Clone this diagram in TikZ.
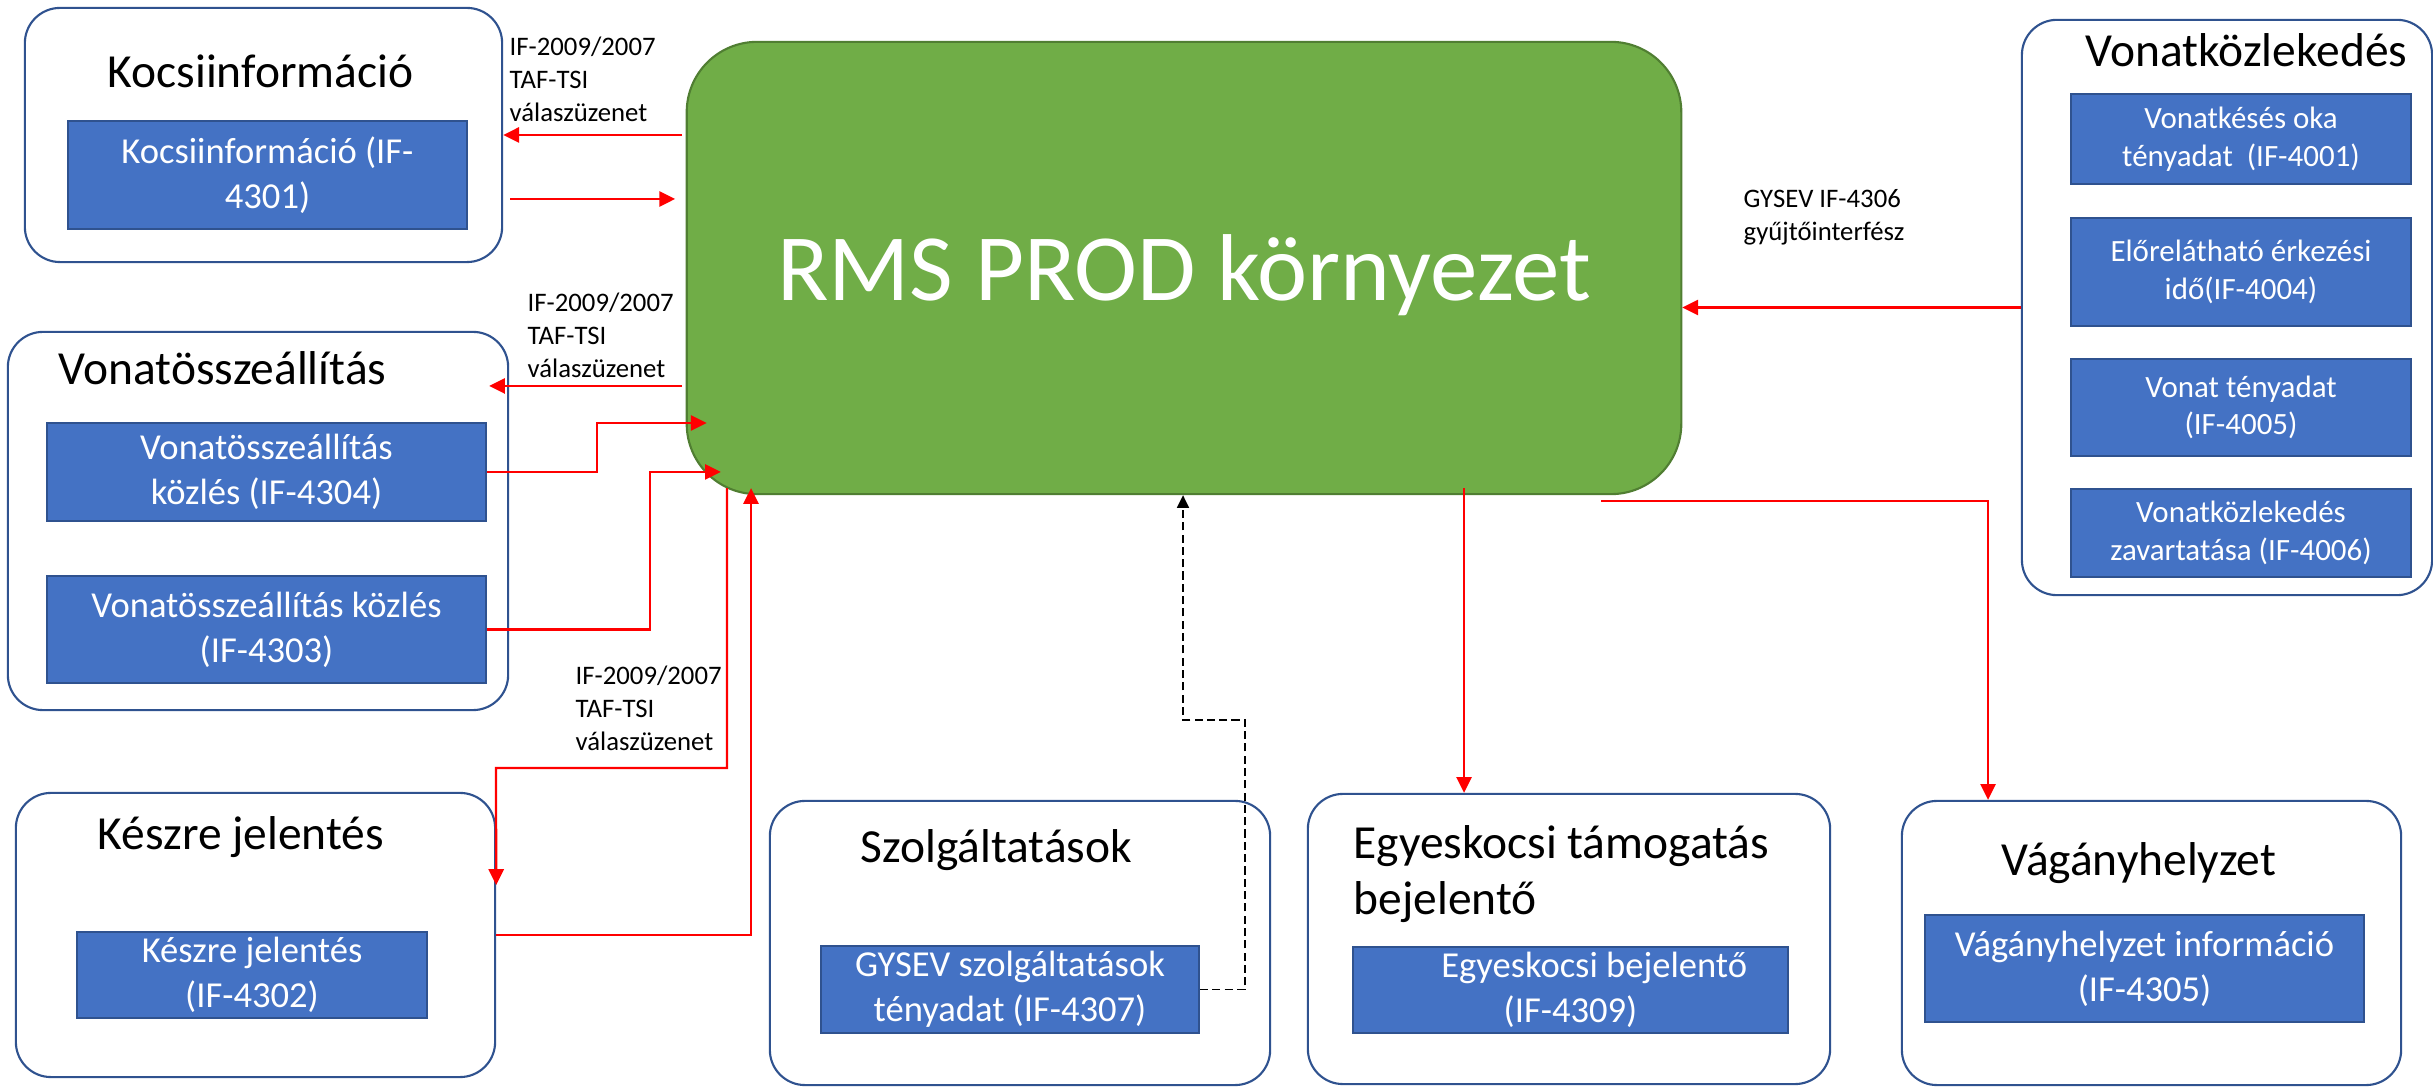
\documentclass[tikz,border=0pt]{standalone}
\usepackage{fontspec}
\setmainfont{Carlito}
\usetikzlibrary{arrows.meta}

\definecolor{ifblue}{HTML}{4472C4}
\definecolor{ifline}{HTML}{2F528F}
\definecolor{rmsgreen}{HTML}{70AD47}
\definecolor{rmsline}{HTML}{507E32}

\begin{document}
\begin{tikzpicture}[x=0.01cm, y=-0.01cm,
  grp/.style={draw=ifline, line width=0.6pt, rounded corners=10pt, fill=white},
  ifbox/.style={draw=ifline, line width=0.5pt, fill=ifblue, text=white, align=center, inner sep=0pt, font=\fontsize{10.4}{12.8}\selectfont},
  vkbox/.style={ifbox, minimum width=3.40cm, font=\fontsize{8.8}{10.7}\selectfont},
  ttl/.style={anchor=base west, inner sep=0pt, font=\fontsize{13.5}{16.2}\selectfont},
  msg/.style={anchor=base west, inner sep=0pt, align=left, font=\fontsize{7.6}{9.4}\selectfont},
  rarr/.style={draw=red, line width=0.65pt, -{Triangle[length=4.5pt,width=4.3pt]}},
  darr/.style={draw=black, line width=0.45pt, dash pattern=on 2.3pt off 1.2pt, -{Triangle[length=3.6pt,width=3.4pt]}}]
\useasboundingbox (0,0) rectangle (2433,1089);

% groups
\node[grp, minimum width=4.77cm, minimum height=2.54cm] (kocsi) at (263.5,135) {};
\node[grp, minimum width=5.00cm, minimum height=3.78cm] (vonat) at (258,521) {};
\node[grp, minimum width=4.79cm, minimum height=2.84cm] (keszre) at (255.5,935) {};
\node[grp, minimum width=5.00cm, minimum height=2.84cm] (szolg) at (1020,943) {};
\node[grp, minimum width=5.22cm, minimum height=2.90cm] (egyes) at (1569,939) {};
\node[grp, minimum width=4.99cm, minimum height=2.84cm] (vagany) at (2151.5,943) {};
\node[grp, minimum width=4.10cm, minimum height=5.75cm] (vonatk) at (2227,307.5) {};

\node[draw=rmsline, line width=0.6pt, fill=rmsgreen, rounded corners=20pt,
  minimum width=9.94cm, minimum height=4.52cm, text=white, text depth=0pt,
  font=\fontsize{27}{32}\selectfont] (rms) at (1184,268) {RMS PROD környezet};

\node[ttl] (kocsit) at (107,88) {Kocsiinformáció};
\node[ttl] (vonatt) at (58,385) {Vonatösszeállítás};
\node[ttl] (keszret) at (97,850) {Készre jelentés};
\node[ttl] (szolgt) at (860,863) {Szolgáltatások};
\node[ttl, align=left] (egyest) at (1353,915) {Egyeskocsi támogatás\\bejelentő};
\node[ttl] (vagat) at (2001,876) {Vágányhelyzet};
\node[ttl] (vonatkt) at (2085,67) {Vonatközlekedés};

% interfaces
\node[ifbox, minimum width=3.99cm, minimum height=1.08cm] (kb) at (267.5,175) {Kocsiinformáció (IF-\\4301)};
\node[ifbox, minimum width=4.39cm, minimum height=0.98cm] (vb1) at (266.5,472) {Vonatösszeállítás\\közlés (IF-4304)};
\node[ifbox, minimum width=4.39cm, minimum height=1.07cm] (vb2) at (266.5,629.5) {Vonatösszeállítás közlés\\(IF-4303)};
\node[ifbox, minimum width=3.50cm, minimum height=0.86cm] (kjb) at (252,975) {Készre jelentés\\(IF-4302)};
\node[ifbox, minimum width=3.78cm, minimum height=0.87cm] (szb) at (1010,989.5) {GYSEV szolgáltatások\\tényadat (IF-4307)};
\node[ifbox, minimum width=4.35cm, minimum height=0.86cm] (egb) at (1570.5,990) {\hspace*{13.5pt}Egyeskocsi bejelentő\\(IF-4309)};
\node[ifbox, minimum width=4.39cm, minimum height=1.07cm] (vgb) at (2144.5,968.5) {Vágányhelyzet információ\\(IF-4305)};
\node[vkbox, minimum height=0.90cm] (vk1) at (2241,139) {Vonatkésés oka\\tényadat\ \ (IF-4001)};
\node[vkbox, minimum height=1.08cm] (vk2) at (2241,272) {Előrelátható érkezési\\idő(IF-4004)};
\node[vkbox, minimum height=0.97cm] (vk3) at (2241,407.5) {Vonat tényadat\\(IF-4005)};
\node[vkbox, minimum height=0.88cm] (vk4) at (2241,533) {Vonatközlekedés\\zavartatása (IF-4006)};

\node[msg] (l1) at (509,122) {IF-2009/2007\\TAF-TSI\\válaszüzenet};
\node[msg] (l2) at (527,378) {IF-2009/2007\\TAF-TSI\\válaszüzenet};
\node[msg] (l3) at (575,751) {IF-2009/2007\\TAF-TSI\\válaszüzenet};
\node[msg] (l4) at (1743,241) {GYSEV IF-4306\\gyűjtőinterfész};

% connectors
\draw[rarr] ([xshift=-1pt]rms.west |- kocsi.east) -- (kocsi.east);
\draw[rarr] ([xshift=2pt]kocsi.east |- 0,199) -- ([xshift=-3pt]rms.west |- 0,199);
\draw[rarr] ([xshift=-1pt]rms.west |- 0,386) -- ([xshift=-5.7pt]vonat.east |- 0,386);
\draw[rarr] (vb1.east) -| (597,423) -- ([xshift=6pt]rms.west |- 0,423);
\draw[rarr] (vb2.east) -| (650,472) -- ([xshift=10pt]rms.west |- 0,472);
\draw[rarr] ([yshift=2pt]rms.south -| 727,0) |- (496,768) -- (keszre.east |- 0,885);
\draw[rarr] (keszre.east) -| ([yshift=2pt]rms.south -| 751,0);
\draw[darr] (szb.east) -| (1245,720) -| (rms.south -| 1183,0);
\draw[rarr] ([yshift=2pt]rms.south -| 1464,0) -- (egyes.north -| 1464,0);
\draw[rarr] ([yshift=-1.7pt]rms.south -| 1601,0) -| (vagany.north -| 1988,0);
\draw[rarr] (vonatk.west) -- (rms.east |- vonatk.west);

\end{tikzpicture}
\end{document}
